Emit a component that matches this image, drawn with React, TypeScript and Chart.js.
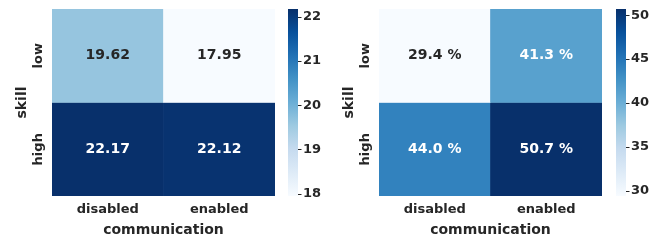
import React, { useEffect, useRef } from 'react';
import { Chart, registerables } from 'chart.js';

Chart.register(...registerables);

// ---- data ----
const communication = ['disabled', 'enabled'];
const skill = ['low', 'high'];
const rewardValues = [
  [19.62, 17.95],
  [22.17, 22.12],
];
const successValues = [
  [29.4, 41.3],
  [44.0, 50.7],
];
const rewardTicks = [18, 19, 20, 21, 22];
const successTicks = [30, 35, 40, 45, 50];

// ---- matplotlib "Blues" colormap ----
const BLUES: number[][] = [
  [247, 251, 255],
  [222, 235, 247],
  [198, 219, 239],
  [158, 202, 225],
  [107, 174, 214],
  [66, 146, 198],
  [33, 113, 181],
  [8, 81, 156],
  [8, 48, 107],
];

function blues(t: number): number[] {
  const c = Math.max(0, Math.min(1, t)) * (BLUES.length - 1);
  const i = Math.min(Math.floor(c), BLUES.length - 2);
  const f = c - i;
  return BLUES[i].map((v, k) => v + (BLUES[i + 1][k] - v) * f);
}

function rgbStr(c: number[]): string {
  return `rgb(${Math.round(c[0])},${Math.round(c[1])},${Math.round(c[2])})`;
}

function relLum(c: number[]): number {
  const lin = c.map((v) => {
    const s = v / 255;
    return s <= 0.03928 ? s / 12.92 : Math.pow((s + 0.055) / 1.055, 2.4);
  });
  return 0.2126 * lin[0] + 0.7152 * lin[1] + 0.0722 * lin[2];
}

const TEXT = '#262626';
const FONT = 'DejaVu Sans';

function noPad(scale: any) {
  scale.paddingTop = 0;
  scale.paddingBottom = 0;
  scale.paddingLeft = 0;
  scale.paddingRight = 0;
}

type HeatProps = {
  values: number[][];
  cbTicks: number[];
  fmt: (v: number) => string;
  width: number;
  left: number;
  cbGap: number;
  cbPad: number;
};

function Heatmap({ values, cbTicks, fmt, width, left, cbGap, cbPad }: HeatProps) {
  const ref = useRef<HTMLCanvasElement>(null);

  useEffect(() => {
    if (!ref.current) return;
    const flat = values.flat();
    const vmin = Math.min(...flat);
    const vmax = Math.max(...flat);
    const norm = (v: number) => (v - vmin) / (vmax - vmin);
    const nRows = skill.length;

    const datasets = values.map((row, i) => ({
      label: skill[i],
      data: row.map(() => [nRows - 1 - i, nRows - i]),
      backgroundColor: row.map((v) => rgbStr(blues(norm(v)))),
      borderWidth: 0,
      grouped: false,
      barPercentage: 1,
      categoryPercentage: 1,
    }));

    const annotate = {
      id: 'annotate',
      afterDatasetsDraw(chart: any) {
        const ctx = chart.ctx;
        ctx.save();
        ctx.font = `bold 14px "${FONT}"`;
        ctx.textAlign = 'center';
        ctx.textBaseline = 'middle';
        chart.data.datasets.forEach((_: any, i: number) => {
          const meta = chart.getDatasetMeta(i);
          meta.data.forEach((el: any, j: number) => {
            const v = values[i][j];
            const { x, y, base } = el.getProps(['x', 'y', 'base'], true);
            ctx.fillStyle = relLum(blues(norm(v))) > 0.408 ? TEXT : '#ffffff';
            ctx.fillText(fmt(v), x, (y + base) / 2);
          });
        });
        ctx.restore();
      },
    };

    const colorbar = {
      id: 'colorbar',
      afterDraw(chart: any) {
        const ctx = chart.ctx;
        const s = chart.scales.cb;
        const { top, bottom, right } = chart.chartArea;
        const x0 = right + cbGap;
        const w = 10;
        const y0 = s.getPixelForValue(vmin);
        const y1 = s.getPixelForValue(vmax);
        ctx.save();
        const g = ctx.createLinearGradient(0, y0, 0, y1);
        BLUES.forEach((c, k) => g.addColorStop(k / (BLUES.length - 1), rgbStr(c)));
        ctx.fillStyle = g;
        ctx.fillRect(x0, top, w, bottom - top);
        ctx.strokeStyle = TEXT;
        ctx.lineWidth = 1;
        s.ticks.forEach((t: any) => {
          const py = Math.round(s.getPixelForValue(t.value)) + 0.5;
          ctx.beginPath();
          ctx.moveTo(x0 + w, py);
          ctx.lineTo(x0 + w + 3.5, py);
          ctx.stroke();
        });
        ctx.restore();
      },
    };

    const tickFont = { family: FONT, size: 13, weight: 'bold' as const };
    const titleFont = { family: FONT, size: 14, weight: 'bold' as const };

    const chart = new Chart(ref.current, {
      type: 'bar',
      data: { labels: communication, datasets: datasets as any },
      options: {
        responsive: false,
        animation: false,
        layout: { padding: { top: 9, left: 0, right: 0, bottom: 0 } },
        plugins: { legend: { display: false }, tooltip: { enabled: false } },
        scales: {
          x: {
            type: 'category',
            offset: true,
            grid: { display: false, drawTicks: false },
            border: { display: false },
            ticks: { font: tickFont, color: TEXT, padding: 6 },
            title: {
              display: true,
              text: 'communication',
              font: titleFont,
              color: TEXT,
              padding: { top: 0, bottom: 3 },
            },
            afterFit(scale: any) {
              scale.height = 46;
              noPad(scale);
            },
          },
          y: {
            type: 'linear',
            position: 'left',
            min: 0,
            max: nRows,
            grid: { display: false, drawTicks: false },
            border: { display: false },
            afterBuildTicks(scale: any) {
              scale.ticks = skill.map((_, i) => ({ value: nRows - i - 0.5 }));
            },
            ticks: {
              font: tickFont,
              color: TEXT,
              minRotation: 90,
              maxRotation: 90,
              crossAlign: 'center',
              padding: -3,
              callback: (value: any) => skill[Math.round(nRows - 0.5 - Number(value))],
            },
            title: {
              display: true,
              text: 'skill',
              font: titleFont,
              color: TEXT,
              padding: { top: 14, bottom: 0 },
            },
            afterFit(scale: any) {
              scale.width = 52;
              noPad(scale);
            },
          },
          cb: {
            type: 'linear',
            position: 'right',
            min: vmin,
            max: vmax,
            grid: { display: false, drawTicks: false },
            border: { display: false },
            afterBuildTicks(scale: any) {
              scale.ticks = cbTicks.map((v) => ({ value: v }));
            },
            ticks: {
              font: tickFont,
              color: TEXT,
              padding: cbPad,
              callback: (value: any) => String(value),
            },
            afterFit(scale: any) {
              scale.width = width - 275;
              noPad(scale);
            },
          },
        },
      } as any,
      plugins: [annotate, colorbar],
    });
    return () => chart.destroy();
  }, []);

  return (
    <canvas
      ref={ref}
      width={width}
      height={242}
      style={{ position: 'absolute', left, top: 0, width, height: 242, display: 'block' }}
    />
  );
}

export default function App() {
  return (
    <div
      style={{
        position: 'fixed',
        left: 0,
        top: 0,
        width: 663,
        height: 242,
        background: '#ffffff',
        overflow: 'hidden',
      }}
    >
      <Heatmap
        values={rewardValues}
        cbTicks={rewardTicks}
        fmt={(v) => v.toFixed(2)}
        width={327}
        left={0}
        cbGap={13}
        cbPad={28}
      />
      <Heatmap
        values={successValues}
        cbTicks={successTicks}
        fmt={(v) => `${v.toFixed(1)} %`}
        width={336}
        left={327}
        cbGap={14}
        cbPad={29}
      />
    </div>
  );
}
